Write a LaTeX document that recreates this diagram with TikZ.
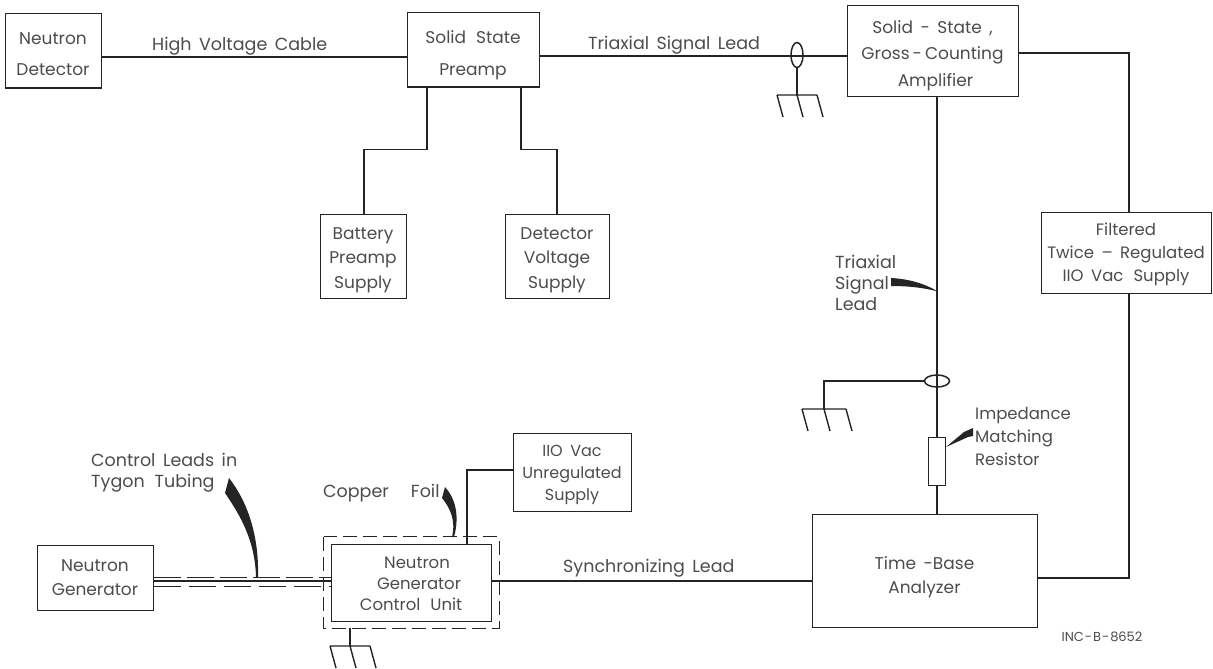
\documentclass[tikz,border=0pt]{standalone}
\usepackage{fontspec}
\setmainfont{Poppins}
\usetikzlibrary{positioning,calc}
\definecolor{ink}{gray}{0.14}
\definecolor{txt}{gray}{0.3}
\newcommand{\fnt}[2]{\fontsize{#1}{#2}\selectfont\spaceskip=7.5pt\relax}
\newcommand{\dn}[1]{\rule{0pt}{#1}}
\tikzset{
  blockbox/.style={draw=ink,line width=1pt,align=center,inner sep=0pt,text=txt,font=\fnt{17}{24}},
  wire/.style={draw=ink,line width=1.8pt},
  thinwire/.style={draw=ink,line width=1pt},
  lbl/.style={text=txt,font=\fnt{17.5}{21},align=center,inner sep=0pt},
  pointer/.style={fill=ink,draw=none},
  shield/.style={draw=ink,line width=1pt,dash pattern=on 14pt off 6pt},
  loop/.style={draw=ink,line width=1.5pt,fill=none}
}
\newcommand{\rake}[3]{%
  \draw[wire,line width=1.4pt] (#1-#3,#2) -- (#1+#3,#2)
    (#1-#3,#2) -- (#1-#3+6,#2+22) (#1,#2) -- (#1+6,#2+22) (#1+#3,#2) -- (#1+#3+6,#2+22);}
\begin{document}
\begin{tikzpicture}[x=1pt,y=-1pt]
\useasboundingbox (0,0) rectangle (1213,669);
% blocks
\node[blockbox,minimum width=96pt,minimum height=74pt,font=\fnt{17}{31}] (nd) at (53,51) {\dn{18pt}Neutron\\Detector};
\node[blockbox,minimum width=132pt,minimum height=74pt,font=\fnt{17}{32}] (pre) at (473,50) {\dn{24pt}Solid\hspace{10pt}State\\Preamp};
\node[blockbox,minimum width=171pt,minimum height=90pt,font=\fnt{17}{26.5}] (amp) at (932.5,51) {\dn{22pt}Solid - State ,\\Gross\hspace{3pt}-\hspace{3pt}Counting\\\hspace*{6pt}Amplifier};
\node[blockbox,minimum width=86pt,minimum height=84pt,font=\fnt{17}{24.5}] (bat) at (363,256) {\dn{20pt}Battery\\Preamp\\Supply};
\node[blockbox,minimum width=104pt,minimum height=84pt,font=\fnt{17}{24.5}] (det) at (557,256) {\dn{20pt}Detector\\Voltage\\Supply};
\node[blockbox,minimum width=170pt,minimum height=81pt,font=\fnt{16.5}{23}] (fil) at (1126,252.5) {\dn{17pt}Filtered\\Twice -- Regulated\\IIO Vac\hspace{10pt}Supply};
\node[blockbox,minimum width=118pt,minimum height=78pt,font=\fnt{16}{22}] (sup) at (572,472) {\dn{18pt}IIO Vac\\Unregulated\\Supply};
\node[blockbox,minimum width=225pt,minimum height=113pt] (tb) at (924.5,570.5) {\dn{26pt}Time -Base\\Analyzer\hspace{18pt}};
\node[blockbox,minimum width=116pt,minimum height=65pt] (gen) at (95,577.5) {Neutron\\Generator};
\node[blockbox,minimum width=160pt,minimum height=77pt,font=\fnt{16.5}{21}] (cu) at (411,582.5) {\dn{14pt}\hspace*{12pt}Neutron\\\hspace*{16pt}Generator\\Control\hspace{10pt}Unit};
\node[draw=none,minimum width=175pt,minimum height=91pt,inner sep=0pt] (cage) at (411.5,582.5) {};
\draw[shield] (cage.north west) rectangle (cage.south east);
\node[draw=ink,line width=1pt,fill=white,minimum width=17pt,minimum height=48pt,inner sep=0pt] (res) at (937,461) {};
% reference coordinates
\coordinate (top) at (0,57);
\coordinate (topb) at (0,56);
\coordinate (sync) at (0,581);
\coordinate (pl) at (427,0);
\coordinate (pr) at (521,0);
\coordinate (riser) at (1129,0);
\coordinate (cv) at (937,0);
% wires
\draw[wire] (nd.east |- top) -- (pre.west |- top);
\draw[wire] (pre.east |- topb) -- (amp.west |- topb);
\draw[wire] (pl |- pre.south) |- ($(bat.north)+(1,-64)$) -- ($(bat.north)+(1,0)$);
\draw[wire] (pr |- pre.south) |- ($(det.north)+(0,-64)$) -- (det.north);
\draw[wire] (amp.east |- 0,53) -| (fil.north -| riser);
\draw[wire] (fil.south -| riser) |- (tb.east |- 0,578);
\draw[wire] (cv |- amp.south) -- (res.north);
\draw[wire] (res.south) -- (cv |- tb.north);
\draw[wire] (cu.east |- sync) -- (tb.west |- sync);
\draw[wire] (467,544) |- (sup.west |- 0,470);
% control leads
\draw[wire] (gen.east |- sync) -- (cu.west |- sync);
\draw[thinwire,dash pattern=on 27pt off 6pt] (gen.east |- 0,577) -- (cu.west |- 0,577);
\draw[thinwire,dash pattern=on 27pt off 8pt] (gen.east |- 0,586) -- (cu.west |- 0,586);
% grounds
\coordinate (ga) at (797,55);
\coordinate (gb) at (824,381);
\draw[loop] (ga) ellipse (6pt and 12.5pt);
\draw[wire] (ga) ++(0,12.5) -- (797,95);
\rake{797}{95}{20}
\draw[loop] (cv |- 0,381) ellipse (12.5pt and 6pt);
\draw[wire] (924.5,381) -- (gb) -- (824,409);
\rake{824}{409}{22}
\draw[wire] (350,628) -- (350,646);
\rake{350}{646}{20}
% pointers
\fill[pointer] (256,577) .. controls (255,540) and (240,515) .. (225,493) -- (229,478) .. controls (250,505) and (259,540) .. (258,577) -- cycle;
\fill[pointer] (452,537) .. controls (456,520) and (450,508) .. (442,498) -- (445,487) .. controls (455,498) and (460,515) .. (454,537) -- cycle;
\fill[pointer] (936,291) .. controls (920,287) and (905,286) .. (891,286) -- (891,278) .. controls (910,279) and (925,284) .. (937,291) -- cycle;
\fill[pointer] (946,447) -- (968,437) -- (973,436) -- (973,428) -- (964,432) -- cycle;
% labels
\node[lbl,anchor=west] (t1) at (152,46) {High Voltage Cable};
\node[lbl,anchor=west] (t2) at (588,45) {Triaxial Signal Lead};
\node[lbl,anchor=west] (t3) at (563,568) {Synchronizing Lead};
\node[lbl,align=left,anchor=west] (t4) at (835,283) {Triaxial\\Signal\\Lead};
\node[lbl,align=left,anchor=west,font=\fnt{16.5}{23}] (t5) at (975,436) {Impedance\\Matching\\Resistor};
\node[lbl,align=left,anchor=west] (t6) at (91,473) {Control Leads in\\Tygon\hspace{10pt}Tubing};
\node[lbl,anchor=west] (t7) at (323,493) {Copper\hspace{22pt}Foil};
\node[lbl,font=\fontsize{13}{15}\selectfont] (t8) at (1102,637) {INC\hspace{1pt}-\hspace{1pt}B\hspace{1pt}-\hspace{1pt}8652};
\end{tikzpicture}
\end{document}
